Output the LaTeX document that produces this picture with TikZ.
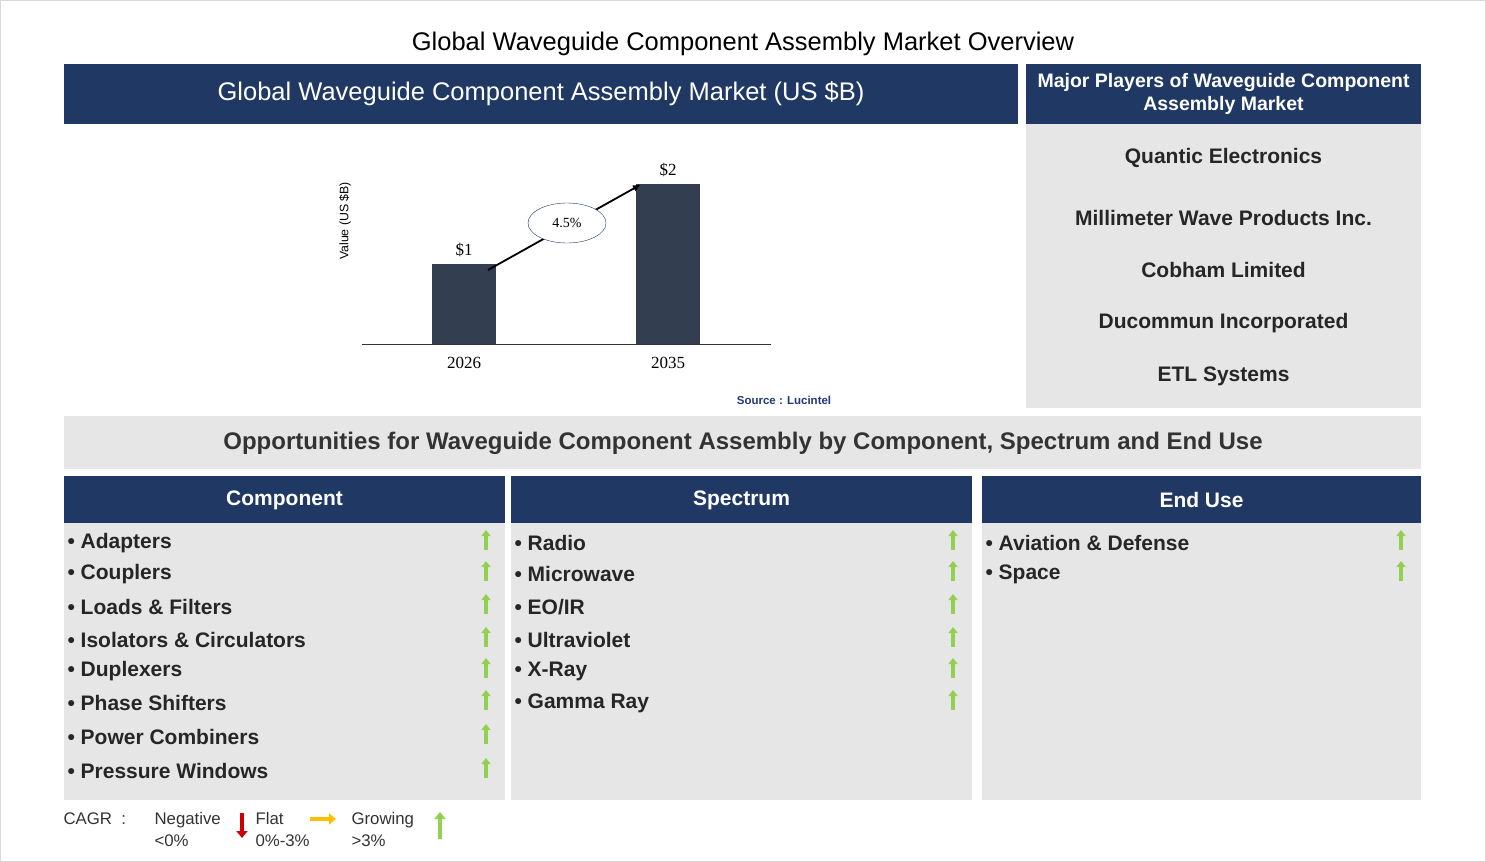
\documentclass[tikz,border=0pt]{standalone}
\usepackage{fontspec}
\setmainfont{Liberation Sans}
\newfontfamily\serifx{Liberation Serif}
\usetikzlibrary{arrows.meta,shapes.geometric}
\definecolor{navy}{RGB}{31,56,100}
\definecolor{panel}{RGB}{231,230,230}
\definecolor{barc}{RGB}{51,63,80}
\definecolor{upg}{RGB}{146,208,80}
\definecolor{srcb}{RGB}{31,56,120}
\definecolor{flat}{RGB}{255,192,0}
\begin{document}
\begin{tikzpicture}[x=1pt,y=-1pt,
 hdr/.style={fill=navy,draw=none},
 pan/.style={fill=panel,draw=none},
 htxt/.style={text=white,font=\bfseries\fontsize{21}{24}\selectfont},
 item/.style={anchor=west,font=\bfseries\fontsize{21}{24}\selectfont,text=black!85},
 up/.style={-{Triangle[length=6pt,width=9pt]},line width=3.5pt,upg},
 player/.style={font=\bfseries\fontsize{21}{24}\selectfont,text=black!85},
 leg/.style={anchor=west,align=left,font=\fontsize{16.8}{22}\selectfont,text=black!80}]
\useasboundingbox (0,0) rectangle (1486,862);
\draw[black!15] (0.5,0.5) rectangle (1485.5,861.5);
\node[font=\fontsize{25.5}{28}\selectfont] (title) at (743,44) {Global Waveguide Component Assembly Market Overview};
\fill[hdr] (64,64) rectangle (1018,124);
\node[text=white,font=\fontsize{25.5}{28}\selectfont] (h1) at (541,94) {Global Waveguide Component Assembly Market (US \$B)};
\fill[hdr] (1026,64) rectangle (1421,124);
\node[htxt,align=center,font=\bfseries\fontsize{19.5}{23}\selectfont] (h2) at (1223.5,94) {Major Players of Waveguide Component\\Assembly Market};
\fill[pan] (1026,124) rectangle (1421,408);
\node[player] (p1) at (1223.5,158) {Quantic Electronics};
\node[player] (p2) at (1223.5,218) {Millimeter Wave Products Inc.};
\node[player] (p3) at (1223.5,270) {Cobham Limited};
\node[player] (p4) at (1223.5,323) {Ducommun Incorporated};
\node[player] (p5) at (1223.5,376) {ETL Systems};
% chart
\fill[barc] (432,264) rectangle (496,344);
\fill[barc] (636,184) rectangle (700,344);
\draw[black!80] (362,344) -- (771,344);
\node[font=\serifx\fontsize{17}{19}\selectfont] (v1) at (464,250) {\$1};
\node[font=\serifx\fontsize{17}{19}\selectfont] (v2) at (668,170) {\$2};
\node[font=\serifx\fontsize{17}{19}\selectfont] (y1) at (464,363) {2026};
\node[font=\serifx\fontsize{17}{19}\selectfont] (y2) at (668,363) {2035};
\node[rotate=90,font=\fontsize{12.3}{14}\selectfont] (yl) at (345,221) {Value (US \$B)};
\coordinate (a1) at (488,270);
\coordinate (a2) at (640,185);
\draw[-{Triangle[length=7pt,width=6pt]},line width=1.8pt] (a1) -- (a2);
\node[ellipse,draw=navy,fill=white,minimum width=78pt,minimum height=40pt,font=\serifx\fontsize{14}{16}\selectfont] (cagr) at (567,223) {4.5\%};
\node[text=srcb,font=\bfseries\fontsize{11.5}{13}\selectfont] (src) at (784,400) {Source : Lucintel};
% opportunities
\fill[pan] (64,416) rectangle (1421,469);
\node[font=\fontsize{24}{27}\selectfont\bfseries,text=black!80] (opp) at (743,443) {Opportunities for Waveguide Component Assembly by Component, Spectrum and End Use};
\fill[hdr] (64,476) rectangle (505,523); \fill[pan] (64,523) rectangle (505,800);
\fill[hdr] (511,476) rectangle (972,523); \fill[pan] (511,523) rectangle (972,800);
\fill[hdr] (982,476) rectangle (1421,523); \fill[pan] (982,523) rectangle (1421,800);
\node[htxt] (c1) at (284.5,500) {Component};
\node[htxt] (c2) at (741.5,500) {Spectrum};
\node[htxt] (c3) at (1201.5,500) {End Use};
\foreach \t/\y [count=\i] in {Adapters/543,Couplers/574,Loads \& Filters/607,Isolators \& Circulators/640,Duplexers/671,Phase Shifters/703,Power Combiners/737,Pressure Windows/771}{
 \node[item] (ci\i) at (64,\y) {\textbullet\ \t};
 \draw[up] (486,\y+7) -- (486,\y-13);}
\foreach \t/\y [count=\i] in {Radio/543,Microwave/574,{EO/IR}/607,Ultraviolet/640,X-Ray/671,Gamma Ray/703}{
 \node[item] (si\i) at (511,\y) {\textbullet\ \t};
 \draw[up] (953,\y+7) -- (953,\y-13);}
\foreach \t/\y [count=\i] in {Aviation \& Defense/543,Space/574}{
 \node[item] (ei\i) at (982,\y) {\textbullet\ \t};
 \draw[up] (1401,\y+7) -- (1401,\y-13);}
% legend
\node[anchor=west,font=\fontsize{16.8}{20}\selectfont,text=black!80] (lg) at (60,819) {CAGR\ \ :};
\node[leg] (ln) at (151,829) {Negative\\<0\%};
\draw[-{Triangle[length=7pt,width=11pt]},line width=4pt,red!80!black] (242,813) -- (242,838);
\node[leg] (lf) at (252,829) {Flat\\0\%-3\%};
\draw[-{Triangle[length=7pt,width=11pt]},line width=4pt,flat] (310,819) -- (336,819);
\node[leg] (lgw) at (348,829) {Growing\\>3\%};
\draw[-{Triangle[length=7pt,width=11pt]},line width=4pt,upg] (440,839) -- (440,812);
\end{tikzpicture}
\end{document}
